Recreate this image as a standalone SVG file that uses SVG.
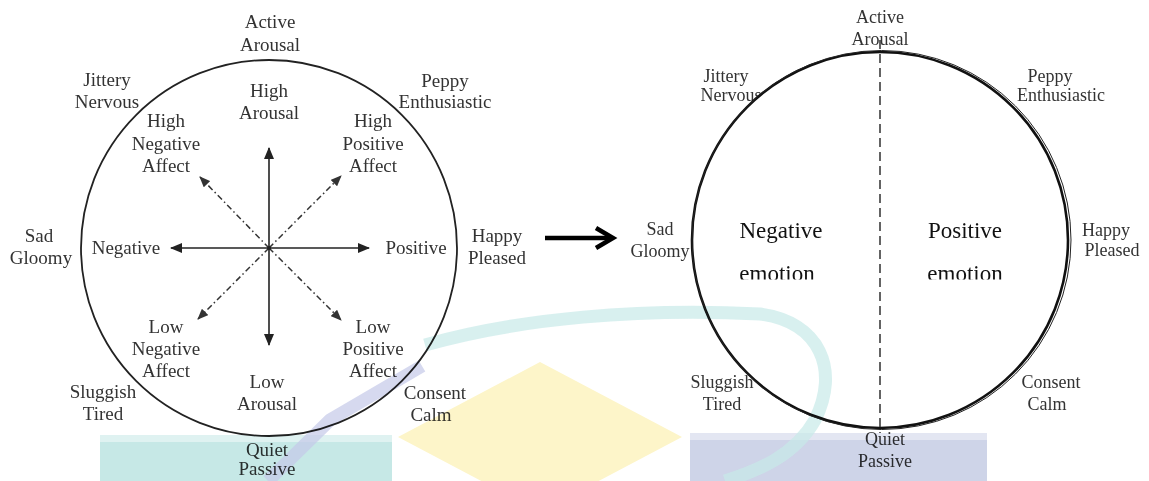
<svg xmlns="http://www.w3.org/2000/svg" width="1149" height="481" viewBox="0 0 1149 481">
  <style>
    .lbl { font-family: "Liberation Serif", "Times New Roman", serif; font-size: 19px; fill: #333; text-anchor: middle; }
    .lbr { font-family: "Liberation Serif", "Times New Roman", serif; font-size: 18px; fill: #333; text-anchor: middle; }
    .big { font-family: "Liberation Serif", "Times New Roman", serif; font-size: 23px; fill: #111; text-anchor: middle; }
    .axis { stroke: #222; stroke-width: 1.6; fill: none; }
    .diag { stroke: #333; stroke-width: 1.5; fill: none; stroke-dasharray: 6 3 1.5 3; }
  </style>
  <defs>
    <marker id="tri" markerUnits="userSpaceOnUse" markerWidth="12" markerHeight="10" refX="11" refY="5" orient="auto-start-reverse">
      <path d="M0,0 L12,5 L0,10 z" fill="#222"/>
    </marker>
    <marker id="triS" markerUnits="userSpaceOnUse" markerWidth="11" markerHeight="9" refX="10" refY="4.5" orient="auto">
      <path d="M0,0 L11,4.5 L0,9 z" fill="#333"/>
    </marker>
    <clipPath id="emoClip">
      <rect x="700" y="250" width="340" height="29.5"/>
    </clipPath>
  </defs>

  <!-- Left: circumplex of affect -->
  <g id="affect-circle">
    <circle cx="269" cy="248" r="188" fill="none" stroke="#222" stroke-width="1.8"/>
  </g>

  <g id="axes">
    <line class="axis" x1="269" y1="345" x2="269" y2="148" marker-start="url(#tri)" marker-end="url(#tri)"/>
    <line class="axis" x1="171" y1="248" x2="369" y2="248" marker-start="url(#tri)" marker-end="url(#tri)"/>
    <line class="diag" x1="269" y1="248" x2="200" y2="177" marker-end="url(#triS)"/>
    <line class="diag" x1="269" y1="248" x2="341" y2="176" marker-end="url(#triS)"/>
    <line class="diag" x1="269" y1="248" x2="198" y2="319" marker-end="url(#triS)"/>
    <line class="diag" x1="269" y1="248" x2="341" y2="320" marker-end="url(#triS)"/>
    <circle cx="269" cy="248" r="2" fill="#222"/>
  </g>

  <g id="left-inner-labels">
    <g id="high-arousal"><text class="lbl" x="269" y="97">High</text><text class="lbl" x="269" y="119">Arousal</text></g>
    <g id="high-negative-affect"><text class="lbl" x="166" y="127">High</text><text class="lbl" x="166" y="150">Negative</text><text class="lbl" x="166" y="172">Affect</text></g>
    <g id="high-positive-affect"><text class="lbl" x="373" y="127">High</text><text class="lbl" x="373" y="150">Positive</text><text class="lbl" x="373" y="172">Affect</text></g>
    <g id="negative"><text class="lbl" x="126" y="254">Negative</text></g>
    <g id="positive"><text class="lbl" x="416" y="254">Positive</text></g>
    <g id="low-negative-affect"><text class="lbl" x="166" y="333">Low</text><text class="lbl" x="166" y="355">Negative</text><text class="lbl" x="166" y="377">Affect</text></g>
    <g id="low-positive-affect"><text class="lbl" x="373" y="333">Low</text><text class="lbl" x="373" y="355">Positive</text><text class="lbl" x="373" y="377">Affect</text></g>
    <g id="low-arousal"><text class="lbl" x="267" y="388">Low</text><text class="lbl" x="267" y="410">Arousal</text></g>
  </g>

  <g id="left-outer-labels">
    <g id="l-active"><text class="lbl" x="270" y="28">Active</text><text class="lbl" x="270" y="51">Arousal</text></g>
    <g id="l-jittery"><text class="lbl" x="107" y="86">Jittery</text><text class="lbl" x="107" y="108">Nervous</text></g>
    <g id="l-peppy"><text class="lbl" x="445" y="87">Peppy</text><text class="lbl" x="445" y="108">Enthusiastic</text></g>
    <g id="l-sad"><text class="lbl" x="39" y="242">Sad</text><text class="lbl" x="41" y="264">Gloomy</text></g>
    <g id="l-happy"><text class="lbl" x="497" y="242">Happy</text><text class="lbl" x="497" y="264">Pleased</text></g>
    <g id="l-sluggish"><text class="lbl" x="103" y="398">Sluggish</text><text class="lbl" x="103" y="420">Tired</text></g>
    <g id="l-consent"><text class="lbl" x="435" y="399">Consent</text><text class="lbl" x="431" y="421">Calm</text></g>
    <g id="l-quiet"><text class="lbl" x="267" y="456">Quiet</text><text class="lbl" x="267" y="475">Passive</text></g>
  </g>

  <!-- Right: outer labels sit under the filled circle -->
  <g id="right-outer-labels">
    <g id="r-jittery"><text class="lbr" x="726" y="82">Jittery</text><text class="lbr" x="731" y="101">Nervous</text></g>
    <g id="r-peppy"><text class="lbr" x="1050" y="82">Peppy</text><text class="lbr" x="1061" y="101">Enthusiastic</text></g>
    <g id="r-sad"><text class="lbr" x="660" y="235">Sad</text><text class="lbr" x="660" y="257">Gloomy</text></g>
    <g id="r-happy"><text class="lbr" x="1106" y="236">Happy</text><text class="lbr" x="1112" y="256">Pleased</text></g>
    <g id="r-sluggish"><text class="lbr" x="722" y="388">Sluggish</text><text class="lbr" x="722" y="410">Tired</text></g>
    <g id="r-consent"><text class="lbr" x="1051" y="388">Consent</text><text class="lbr" x="1047" y="410">Calm</text></g>
  </g>

  <g id="emotion-circle">
    <circle cx="880" cy="240" r="188" fill="#fff" stroke="#111" stroke-width="2.6"/>
    <circle cx="881.5" cy="240" r="189.5" fill="none" stroke="#222" stroke-width="1"/>
  </g>

  <g id="r-active"><text class="lbr" x="880" y="23">Active</text><text class="lbr" x="880" y="45">Arousal</text></g>
  <g id="r-quiet"><text class="lbr" x="885" y="445">Quiet</text><text class="lbr" x="885" y="467">Passive</text></g>

  <g id="divider">
    <line x1="880" y1="40" x2="880" y2="433" stroke="#222" stroke-width="1.4" stroke-dasharray="9 5"/>
  </g>

  <g id="negative-emotion">
    <text class="big" x="781" y="238">Negative</text>
    <text class="big" x="777" y="281" clip-path="url(#emoClip)">emotion</text>
  </g>
  <g id="positive-emotion">
    <text class="big" x="965" y="238">Positive</text>
    <text class="big" x="965" y="281" clip-path="url(#emoClip)">emotion</text>
  </g>

  <!-- Transition arrow between the two circles -->
  <g id="connectors">
    <line x1="545" y1="238" x2="611" y2="238" stroke="#000" stroke-width="4.5"/>
    <polyline points="596,228 613,238 596,248" fill="none" stroke="#000" stroke-width="4.5" stroke-linejoin="miter"/>
  </g>

  <!-- Faint logo shapes layered on top -->
  <g id="watermark" style="mix-blend-mode:multiply">
    <rect x="100" y="435" width="292" height="46" fill="#c6e8e6"/>
    <rect x="100" y="435" width="292" height="7" fill="#dff2f1"/>
    <polygon points="540,362 682,437 540,512 398,437" fill="#fdf5c9"/>
    <rect x="690" y="433" width="297" height="48" fill="#ced4e8"/>
    <rect x="690" y="433" width="297" height="7" fill="#e3e6f2"/>
    <path d="M 425 345 C 520 318, 640 308, 760 314 C 820 322, 840 370, 815 420 C 795 455, 760 470, 725 481" fill="none" stroke="#c8eae8" stroke-width="13" opacity="0.7"/>
    <path d="M 422 366 L 330 420 L 268 481" fill="none" stroke="#c4c9e8" stroke-width="13" opacity="0.7"/>
  </g>
</svg>
